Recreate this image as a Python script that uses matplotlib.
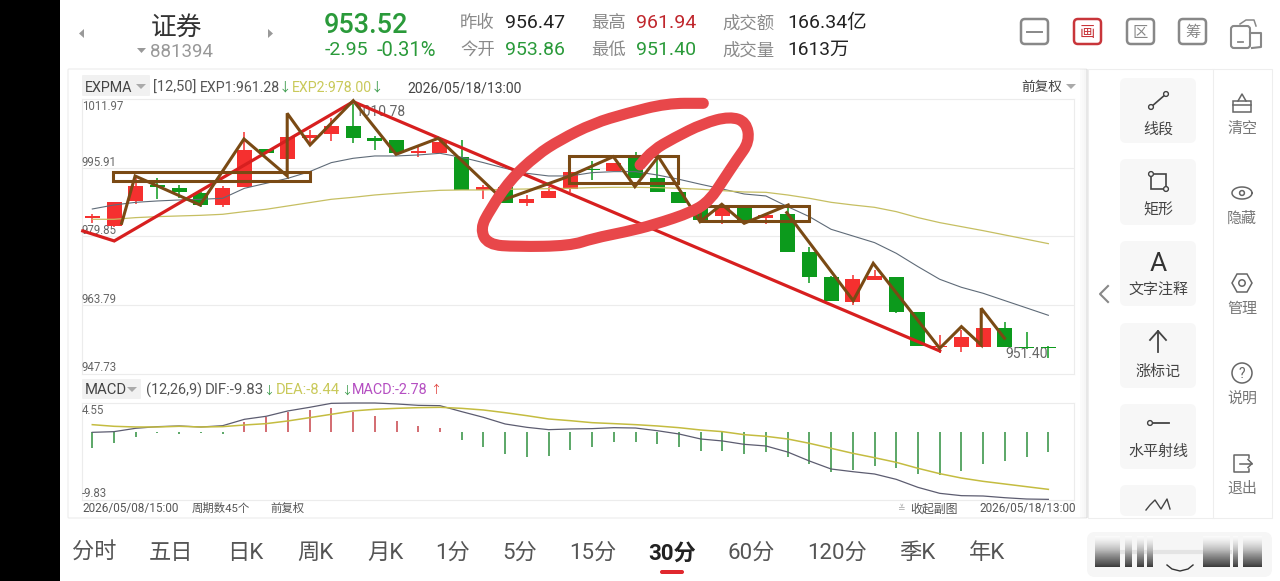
import numpy as np
import matplotlib
matplotlib.use("Agg")
import matplotlib.pyplot as plt
from matplotlib.patches import FancyBboxPatch, Rectangle, Circle, Polygon, PathPatch
from matplotlib.path import Path

plt.rcParams['font.family'] = ['Roboto', 'Noto Sans CJK SC', 'DejaVu Sans']

# ---- candles ---------------------------------------------------
opens = [984.05, 982.26, 988.11, 991.85, 991.07, 989.90, 987.17, 991.30, 1000.20, 998.01,
         1002.77, 1003.78, 1005.66, 1002.77, 1002.38, 999.42, 999.26, 998.48, 990.68, 991.30,
         987.72, 988.89, 990.84, 995.67, 995.20, 998.09, 993.41, 990.29, 986.39, 984.67,
         986.39, 984.05, 984.99, 976.25, 970.24, 964.55, 969.62, 970.24, 962.13, 953.86,
         954.02, 954.02, 958.47, 954.02, 953.86]
closes = [984.60, 987.87, 991.62, 991.30, 990.13, 987.17, 991.15, 1000.04, 999.42, 1003.16,
          1003.55, 1005.66, 1002.85, 1002.22, 999.26, 999.81, 1001.91, 990.68, 991.46, 987.56,
          988.50, 990.52, 994.97, 995.36, 996.92, 993.41, 990.29, 987.56, 983.66, 986.78,
          983.27, 984.83, 976.25, 970.40, 964.78, 969.78, 970.56, 962.21, 954.18, 954.18,
          956.36, 958.47, 954.02, 953.63, 953.63]
highs = [985.06, 987.87, 993.80, 993.41, 991.85, 990.29, 991.62, 1004.17, 1000.20, 1003.16,
         1004.72, 1007.45, 1010.78, 1003.32, 1002.38, 1000.82, 1002.77, 1002.38, 991.85, 991.30,
         989.51, 991.46, 995.36, 997.54, 996.92, 999.65, 998.48, 990.29, 986.39, 987.17,
         986.39, 985.22, 986.78, 977.42, 970.56, 970.79, 971.96, 970.24, 962.13, 956.75,
         957.92, 958.47, 959.87, 957.53, 954.18]
lows = [983.04, 982.10, 987.33, 988.65, 988.73, 986.62, 986.70, 991.30, 999.26, 998.01,
        1001.21, 1002.22, 1001.76, 1000.04, 998.87, 998.48, 999.26, 990.68, 988.50, 987.56,
        986.94, 988.73, 990.29, 993.02, 995.20, 993.41, 990.29, 987.56, 983.27, 982.72,
        982.88, 982.72, 976.25, 968.84, 964.78, 963.77, 969.62, 961.82, 954.18, 952.46,
        952.85, 954.02, 954.02, 953.40, 951.40]
exp1 = [986.23, 987.17, 987.79, 988.11, 988.34, 988.50, 988.73, 991.07, 992.24, 993.41,
        994.97, 997.08, 998.09, 998.64, 998.64, 998.87, 999.26, 998.32, 997.08, 995.75,
        994.58, 993.96, 993.96, 994.74, 994.97, 994.97, 994.19, 993.18, 992.01, 990.91,
        989.74, 989.28, 986.78, 984.44, 981.48, 979.92, 978.36, 975.86, 972.74, 969.78,
        967.90, 966.50, 964.78, 963.07, 961.35]
exp2 = [983.82, 983.82, 984.21, 984.44, 984.60, 984.75, 984.99, 985.61, 986.16, 986.94,
        987.72, 988.50, 988.96, 989.51, 989.90, 990.29, 990.60, 990.68, 990.68, 990.84,
        990.91, 990.99, 991.07, 991.23, 991.30, 991.30, 991.23, 991.07, 990.84, 990.52,
        990.21, 990.13, 989.51, 988.73, 987.79, 987.17, 986.62, 985.61, 984.21, 983.04,
        982.10, 981.16, 980.15, 979.14, 978.12]

# ---- MACD panel ------------------------------------------------
dif = [-0.05, 0.05, 0.54, 0.78, 0.88, 0.73, 0.92, 1.85, 2.29, 3.07, 3.60, 4.18, 4.23, 4.23, 4.09,
       3.89, 3.84, 2.97, 2.14, 1.17, 0.68, 0.34, 0.44, 0.49, 0.63, 0.58, 0.19, -0.29, -1.02, -1.31,
       -1.80, -2.04, -2.92, -4.23, -5.40, -5.79, -6.13, -6.91, -8.08, -8.95, -9.29, -9.34, -9.59,
       -9.78, -9.83]
dea = [1.07, 0.83, 0.73, 0.73, 0.83, 0.73, 0.78, 1.02, 1.22, 1.61, 2.09, 2.58, 3.07, 3.31, 3.45,
       3.55, 3.60, 3.45, 3.21, 2.82, 2.38, 1.90, 1.65, 1.36, 1.22, 1.07, 0.88, 0.63, 0.29, 0.05,
       -0.39, -0.63, -1.02, -1.65, -2.38, -3.11, -3.75, -4.43, -5.30, -6.08, -6.72, -7.20, -7.59,
       -7.98, -8.37]
macd = [-2.29, -1.65, -0.73, -0.10, -0.24, -0.15, -0.24, 1.51, 2.14, 2.87, 3.16, 3.45, 2.97, 2.38,
        1.56, 0.88, 0.63, -1.17, -2.14, -3.21, -3.60, -3.45, -2.68, -2.14, -1.41, -1.41, -1.75,
        -2.24, -2.77, -2.82, -3.16, -2.87, -3.70, -4.67, -5.79, -5.55, -4.96, -5.30, -6.18, -6.28,
        -5.64, -4.62, -4.23, -3.60, -2.87]

# ---- hand drawn marks, as (candle index, price) ----------------
trend_x = [-0.44, 1.01, 12.01, 39.0]
trend_y = [981.09, 978.75, 1011.35, 953.01]
zig1_x = [1.35, 1.97, 4.96, 6.98, 8.97, 8.97, 10.02, 12.01, 13.98, 15.92, 18.91, 21.98, 23.98,
          24.97, 26.05, 27.97, 28.97, 30.0, 32.03]
zig1_y = [982.88, 993.96, 987.17, 1002.61, 993.96, 1008.62, 1001.21, 1011.58, 999.03, 1002.77,
          988.34, 993.96, 998.48, 991.46, 998.48, 983.27, 987.33, 982.88, 987.17]
zig2_x = [31.96, 35.02, 35.94, 39.0, 40.0, 40.91, 40.91, 41.98]
zig2_y = [985.38, 964.78, 973.52, 953.63, 958.70, 954.41, 962.99, 955.97]
box_x0 = [0.97, 21.94, 27.97]
box_x1 = [10.02, 26.97, 33.0]
box_y0 = [992.87, 992.24, 983.43]
box_y1 = [994.97, 998.64, 987.01]
stroke_x = [28.12, 26.43, 24.59, 23.06, 21.52, 20.45, 19.22, 18.30, 17.85, 18.20, 19.53, 21.98,
            23.06, 24.59, 25.82, 27.66, 28.43, 29.04, 29.65, 30.25, 30.10, 29.34, 28.12, 26.74,
            25.82, 25.21]
stroke_y = [1010.96, 1010.96, 1008.62, 1006.28, 1002.38, 998.87, 993.02, 986.00, 981.60, 977.90,
            977.40, 977.60, 979.37, 980.93, 982.49, 985.61, 988.34, 993.02, 997.70, 1001.99,
            1006.60, 1007.90, 1006.28, 1002.77, 1000.04, 996.53]

price_ticks = [1011.97, 995.91, 979.85, 963.79, 947.73]
tab_labels = ["分时", "五日", "日K", "周K", "月K", "1分", "5分", "15分", "30分", "60分", "120分", "季K", "年K"]
tab_pos = [94, 171, 245, 315, 385, 453, 520, 593, 672, 751, 837, 917, 987]
tool_labels = ["线段", "矩形", "文字注释", "涨标记", "水平射线"]
tool_pos = [128, 208, 289, 370, 450]
side_labels = ["清空", "隐藏", "管理", "说明", "退出"]
side_pos = [127, 217, 307, 397, 487]

RED, GREEN = "#f5302f", "#0c9a1c"
W, H = 1280, 581

fig = plt.figure(figsize=(12.8, 5.81), dpi=100, facecolor="white")

# page layer in pixel coordinates
bg = fig.add_axes([0, 0, 1, 1])
bg.set_xlim(0, W)
bg.set_ylim(H, 0)
bg.axis("off")


def txt(x, y, s, size=8.3, color="#555555", ha="left", **kw):
    # the CJK fallback makes va=center sit a little high
    bg.text(x, y + 5 + size * 0.08, s, fontsize=size, color=color, ha=ha, va="center", **kw)


def rbox(x0, y0, x1, y1, r=4, fc="none", ec="none", lw=1.0, z=1):
    bg.add_patch(FancyBboxPatch((x0, y0), x1 - x0, y1 - y0, boxstyle=f"round,pad=0,rounding_size={r}",
                                fc=fc, ec=ec, lw=lw, zorder=z))


def hline(y, x0=82, x1=1074, c="#ececec", lw=0.8):
    bg.plot([x0, x1], [y, y], color=c, lw=lw, zorder=1)


bg.add_patch(Rectangle((0, 0), 60, H, fc="black", ec="none"))

# header
bg.add_patch(Polygon([[84, 29], [84, 38], [79, 33.5]], fc="#999999", ec="none"))
bg.add_patch(Polygon([[268, 29], [268, 38], [273, 33.5]], fc="#999999", ec="none"))
txt(177, 21, "证券", 18.5, "#333333", "center")
bg.add_patch(Polygon([[137, 48], [146, 48], [141.5, 53]], fc="#999999", ec="none"))
txt(150, 46, "881394", 13.5, "#999999")
txt(324, 19, "953.52", 19.5, "#2a9a3a", fontweight="medium")
txt(325, 44, "-2.95", 14, "#2a9a3a")
txt(377, 44, "-0.31%", 14.5, "#2a9a3a")
for x, label, val, col in [(460, "昨收", "956.47", "#222222"), (591, "最高", "961.94", "#c0272d")]:
    txt(x, 17, label, 12.5, "#8a8a8a")
    txt(x + 45, 17, val, 14, col)
for x, label, val in [(460, "今开", "953.86"), (591, "最低", "951.40")]:
    txt(x, 44, label, 12.5, "#8a8a8a")
    txt(x + 45, 44, val, 14, "#2a9a3a")
txt(722, 17, "成交额", 12.5, "#8a8a8a")
txt(787, 17, "166.34亿", 14, "#222222")
txt(722, 44, "成交量", 12.5, "#8a8a8a")
txt(787, 44, "1613万", 13.8, "#222222")

# top right buttons
for x0, s, col in [(1074, "画", "#c8353a"), (1127, "区", "#888888"), (1179, "筹", "#888888")]:
    rbox(x0, 19, x0 + 27, 44, r=4, ec=col, lw=1.8)
    txt(x0 + 13.5, 27, s, 11, col, "center")
rbox(1021, 19, 1048, 44, r=4, ec="#888888", lw=1.8)
bg.plot([1027, 1042], [31.5, 31.5], color="#888888", lw=1.4)
rbox(1231, 26, 1250, 48, r=3, ec="#888888", lw=1.5)
bg.plot([1238, 1243], [42, 42], color="#888888", lw=1.3)
bg.plot([1250, 1261, 1261, 1252], [33, 33, 47, 48], color="#888888", lw=1.5)
bg.plot([1240, 1246, 1254, 1256], [24, 20, 20, 26], color="#888888", lw=1.1)

# chart card
rbox(68, 69, 1087, 518, r=1, fc="white", ec="#ececec", lw=0.8)
hline(99)
hline(374)
hline(403)
hline(499.5)
for y0, y1 in [(99, 374), (403, 499.5)]:
    bg.plot([82, 82], [y0, y1], color="#ececec", lw=0.8, zorder=1)
    bg.plot([1074, 1074], [y0, y1], color="#ececec", lw=0.8, zorder=1)

# indicator rows
rbox(82, 75, 150, 96, r=1, fc="#f1f1f1")
txt(85, 82, "EXPMA", 10.3, "#444444")
bg.add_patch(Polygon([[136, 84], [146, 84], [141, 89]], fc="#aaaaaa", ec="none"))
txt(153, 82, "[12,50]", 10.5)
txt(200, 82, "EXP1:961.28", 10.2)
txt(285, 82, "↓", 9, "#3a9a4a", "center")
txt(292, 82, "EXP2:978.00", 10.2, "#c9c95a")
txt(377, 82, "↓", 9, "#3a9a4a", "center")
txt(407, 83, "2026/05/18/13:00", 10.1, "#444444")
txt(1021, 81, "前复权", 9.8, "#444444")
bg.add_patch(Polygon([[1066, 84], [1076, 84], [1071, 89]], fc="#aaaaaa", ec="none"))
rbox(82, 379, 141, 399, r=1, fc="#f1f1f1")
txt(85, 384.5, "MACD", 10.7, "#444444")
bg.add_patch(Polygon([[127, 387], [137, 387], [132, 392]], fc="#aaaaaa", ec="none"))
txt(146, 384.5, "(12,26,9)", 10.4)
txt(205, 384.5, "DIF:-9.83", 10.8)
txt(269, 384.5, "↓", 8, "#3a9a4a", "center")
txt(276, 384.5, "DEA:-8.44", 10.6, "#c9c95a")
txt(346.5, 384.5, "↓", 8, "#3a9a4a", "center")
txt(352, 384.5, "MACD:-2.78", 10.4, "#b54fc2")
txt(435.5, 384.5, "↑", 8, "#e0403a", "center")

# axis value labels
for y, val in zip([101, 157, 225, 294, 362], price_ticks):
    txt(82, y, f"{val:.2f}", 8.3, "#666666")
txt(82, 405, "4.55", 8.3, "#666666")
txt(82, 488, "-9.83", 8.3, "#666666")
txt(356, 106, "1010.78", 10, "#666666")
txt(1005, 348, "951.40", 10, "#666666")

# footer of card
txt(82, 503, "2026/05/08/15:00", 8.5)
txt(192, 503, "周期数45个", 8.2)
txt(270, 503, "前复权", 8.2)
txt(901, 503, "≚", 6.5, "#aaaaaa", "center")
txt(910, 503, "收起副图", 8.6)
txt(979, 503, "2026/05/18/13:00", 8.5)

# drawing tool panel, with a soft shadow to its left
for i, a in enumerate([0.015, 0.025, 0.035, 0.05]):
    bg.add_patch(Rectangle((1080 + 2 * i, 69), 2, 449, fc="black", alpha=a, ec="none", zorder=2))
bg.add_patch(Rectangle((1088, 69), 184, 449, fc="white", ec="#eeeeee", lw=0.8, zorder=2))
bg.plot([1213, 1213], [69, 518], color="#eeeeee", lw=0.8, zorder=3)
for y0, y1 in [(78, 143), (159, 225), (241, 306), (323, 388), (404, 469), (485, 516)]:
    rbox(1120, y0, 1196, y1, r=6, fc="#f7f7f7", z=3)
for s, y in zip(tool_labels, tool_pos):
    txt(1158, y - 4, s, 10.8, "#444444", "center", zorder=4)
for s, y in zip(side_labels, side_pos):
    txt(1242, y - 4, s, 10.8, "#777777", "center", zorder=4)
txt(1158, 257, "A", 19, "#333333", "center", zorder=4)

ICON = "#444444"
bg.plot([1151, 1166], [107, 94], color=ICON, lw=1.2, zorder=4)
bg.add_patch(Circle((1151, 107), 2.4, fc="#f7f7f7", ec=ICON, lw=1.0, zorder=5))
bg.add_patch(Circle((1166, 94), 2.4, fc="#f7f7f7", ec=ICON, lw=1.0, zorder=5))
bg.add_patch(Rectangle((1151, 174), 15, 15, fc="none", ec=ICON, lw=1.2, zorder=4))
bg.add_patch(Circle((1151, 174), 2.4, fc="#f7f7f7", ec=ICON, lw=1.0, zorder=5))
bg.add_patch(Circle((1166, 189), 2.4, fc="#f7f7f7", ec=ICON, lw=1.0, zorder=5))
bg.plot([1158, 1158], [331, 352], color=ICON, lw=1.3, zorder=4)
bg.plot([1150, 1158, 1166], [340, 331, 340], color=ICON, lw=1.3, zorder=4)
bg.plot([1150, 1169], [423, 423], color=ICON, lw=1.3, zorder=4)
bg.add_patch(Circle((1150, 423), 2.4, fc="#f7f7f7", ec=ICON, lw=1.0, zorder=5))
bg.plot([1146, 1150, 1155, 1161, 1167, 1170], [510, 505, 500, 509, 499, 509], color=ICON, lw=1.0, zorder=4)
bg.plot([1108, 1100, 1108], [286, 294, 302], color="#888888", lw=1.5, zorder=4)

# side column icons
SIDE = "#666666"
bg.add_patch(Rectangle((1233, 101), 18, 11, fc="none", ec=SIDE, lw=1.1, zorder=4))
bg.plot([1233, 1251], [105, 105], color=SIDE, lw=1.1, zorder=4)
bg.plot([1238, 1242, 1246], [101, 94, 101], color=SIDE, lw=1.1, zorder=4)
t = np.linspace(0, 2 * np.pi, 60)
bg.plot(1242 + 10 * np.cos(t), 193 + 6 * np.sin(t), color=SIDE, lw=1.1, zorder=4)
bg.add_patch(Circle((1242, 193), 2.4, fc="none", ec=SIDE, lw=1.1, zorder=4))
bg.add_patch(Polygon([[1232, 283], [1237, 274], [1247, 274], [1252, 283], [1247, 292], [1237, 292]],
                     fc="none", ec=SIDE, lw=1.1, zorder=4))
bg.add_patch(Circle((1242, 283), 3.2, fc="none", ec=SIDE, lw=1.1, zorder=4))
bg.add_patch(Circle((1242, 373), 10, fc="none", ec=SIDE, lw=1.1, zorder=4))
txt(1242, 368, "?", 10, SIDE, "center", zorder=5)
bg.plot([1249, 1249, 1234, 1234, 1249, 1249], [458, 455, 455, 472, 472, 469], color=SIDE, lw=1.1, zorder=4)
bg.plot([1240, 1252], [463.5, 463.5], color=SIDE, lw=1.1, zorder=4)
bg.plot([1248, 1252, 1248], [459.5, 463.5, 467.5], color=SIDE, lw=1.1, zorder=4)

# bottom tabs
for s, x in zip(tab_labels, tab_pos):
    active = s == "30分"
    txt(x, 547, s, 16, "#222222" if active else "#555555", "center", fontweight="bold" if active else "normal")
rbox(660, 570, 684, 574, r=2, fc="#e0282e")

# blurred corner watermark
rbox(1087, 532, 1272, 577, r=8, fc="#f6f6f6")
ramp = np.linspace(0, 1, 32).reshape(-1, 1)
for x0, x1 in [(1095, 1120), (1125, 1132), (1137, 1144), (1147, 1153), (1203, 1230), (1233, 1238), (1243, 1262)]:
    bg.imshow(ramp, extent=(x0, x1, 567, 536), aspect="auto", cmap="Greys", vmin=-0.05, vmax=1.25, zorder=2)
bg.plot([1120, 1230], [552, 552], color="#e4e4e4", lw=3, zorder=1)
bg.plot([1167, 1172, 1180, 1188, 1193], [565, 569, 571, 569, 565], color="#333333", lw=1, zorder=3)
bg.set_xlim(0, W)
bg.set_ylim(H, 0)

# ---- price chart -----------------------------------------------
idx = np.arange(len(opens))
ax = fig.add_axes([82 / W, 1 - 373.5 / H, (1074 - 82) / W, (373.5 - 99) / H])
ax.patch.set_alpha(0)
ax.set_xlim(-0.474, 45.18)
ax.set_ylim(price_ticks[-1], price_ticks[0])
ax.set_axis_off()
for p in price_ticks[1:-1]:
    ax.axhline(p, color="#ececec", lw=0.8, zorder=1)

o, c = np.array(opens), np.array(closes)
cols = [RED if cl >= op else GREEN for op, cl in zip(opens, closes)]
ax.vlines(idx, lows, highs, colors=cols, lw=1.1, zorder=2)
ax.bar(idx, np.abs(c - o), bottom=np.minimum(o, c), width=0.69, color=cols, zorder=3)
ax.plot(idx, exp1, color="#5f6b78", lw=0.8, zorder=4)
ax.plot(idx, exp2, color="#c6bf62", lw=0.9, zorder=4)

ax.plot(trend_x, trend_y, color="#d71f1f", lw=2.3, zorder=5, solid_joinstyle="miter", clip_on=False)
for xs, ys in [(zig1_x, zig1_y), (zig2_x, zig2_y)]:
    ax.plot(xs, ys, color="#7a4a14", lw=2.2, zorder=6, solid_joinstyle="miter", clip_on=False)
for x0, x1, y0, y1 in zip(box_x0, box_x1, box_y0, box_y1):
    ax.add_patch(Rectangle((x0, y0), x1 - x0, y1 - y0, fc="none", ec="#7a4a14", lw=2.2, zorder=6))

# pen stroke: the read points act as quadratic control points so it stays round
pts = np.column_stack([stroke_x, stroke_y])
mids = (pts[:-1] + pts[1:]) / 2
verts = [pts[0], mids[0]]
codes = [Path.MOVETO, Path.LINETO]
for ctrl, end in zip(pts[1:-1], mids[1:]):
    verts += [ctrl, end]
    codes += [Path.CURVE3, Path.CURVE3]
verts.append(pts[-1])
codes.append(Path.LINETO)
ax.add_patch(PathPatch(Path(verts, codes), fc="none", ec="#e8474a", lw=8, zorder=7,
                       capstyle="round", joinstyle="round", clip_on=False))

# ---- MACD chart ------------------------------------------------
ax2 = fig.add_axes([82 / W, 1 - 499.5 / H, (1074 - 82) / W, (499.5 - 403) / H])
ax2.patch.set_alpha(0)
ax2.set_xlim(-0.474, 45.18)
ax2.set_ylim(-9.85, 4.23)
ax2.set_axis_off()
bar_cols = ["#c8444a" if v > 0 else "#2f8f3f" for v in macd]
ax2.vlines(idx, 0, macd, colors=bar_cols, lw=1.1, zorder=2)
ax2.plot(idx, dif, color="#5c5c70", lw=0.9, zorder=3, clip_on=False)
ax2.plot(idx, dea, color="#c4bc40", lw=1.1, zorder=3, clip_on=False)

fig.savefig("out.png", dpi=100)
